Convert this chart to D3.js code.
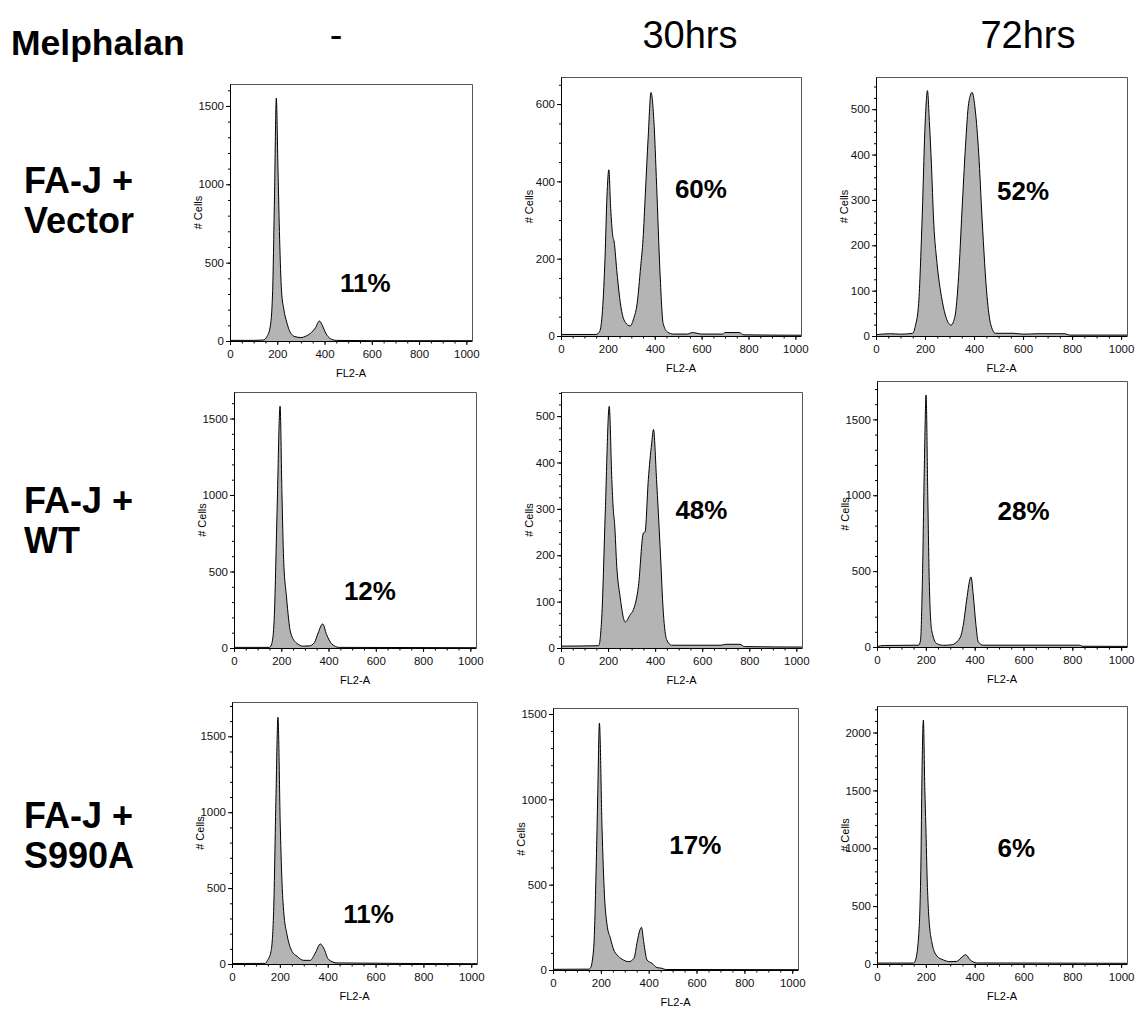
<!DOCTYPE html>
<html>
<head>
<meta charset="utf-8">
<script src="https://cdn.jsdelivr.net/npm/d3@7"></script>
<style>
  body { margin: 0; background: #fff; }
  text { font-family: "Liberation Sans", Arial, sans-serif; }
</style>
</head>
<body>
<div id="graph"></div>
<script>
// cell cycle histograms, melphalan treatment
const conditions = ["-", "30hrs", "72hrs"];
const cellLines = [["FA-J +", "Vector"], ["FA-J +", "WT"], ["FA-J +", "S990A"]];
const percentages = ["11%", "60%", "52%", "12%", "48%", "28%", "11%", "17%", "6%"];
const yMaxes = [1640, 670, 571, 1673, 552, 1753, 1726, 1535, 2229];
const yMajorSteps = [500, 200, 100, 500, 100, 500, 500, 500, 500];
const xTicks = [0, 200, 400, 600, 800, 1000];

// [FL2-A, # cells]
const vectorNone = [[0,4],[100,4],[140,6],[155,25],[170,90],[180,300],[188,900],[196,1550],[203,1100],[210,650],[218,320],[228,200],[240,120],[255,55],[275,28],[300,22],[320,30],[345,55],[362,85],[378,128],[392,95],[405,50],[425,15],[450,4],[600,2],[1024,2]];
const vector30 = [[0,4],[150,4],[165,12],[177,66],[188,205],[196,360],[204,430],[212,330],[220,262],[227,243],[238,170],[250,100],[262,55],[275,35],[295,26],[310,45],[325,85],[340,180],[350,250],[360,370],[372,515],[384,630],[396,560],[408,390],[422,170],[436,32],[455,10],[480,5],[540,5],[560,9],[600,5],[690,5],[700,9],[760,9],[780,3],[1024,2]];
const vector72 = [[0,3],[60,5],[100,4],[150,6],[160,21],[174,72],[188,256],[201,476],[210,541],[218,470],[226,380],[235,256],[249,160],[267,87],[283,46],[306,24],[322,43],[337,131],[351,278],[365,418],[378,513],[392,537],[405,498],[419,403],[433,256],[453,87],[467,28],[487,6],[560,6],[600,4],[660,5],[770,5],[790,2],[1024,2]];
const wtNone = [[0,4],[150,4],[160,30],[170,185],[182,880],[195,1580],[203,1000],[210,580],[222,337],[240,98],[264,33],[293,12],[320,14],[340,35],[356,98],[375,157],[392,87],[413,28],[445,4],[1024,2]];
const wt30 = [[0,4],[160,5],[174,75],[188,291],[205,521],[216,363],[222,300],[228,266],[237,176],[251,111],[273,56],[294,72],[308,83],[329,133],[350,248],[357,250],[371,363],[385,440],[393,471],[406,363],[421,219],[435,75],[449,18],[470,6],[680,6],[700,8],[760,8],[780,3],[1024,2]];
const wt72 = [[0,3],[30,10],[170,12],[178,40],[186,440],[194,1200],[201,1661],[208,1000],[214,440],[224,110],[245,22],[272,11],[306,15],[340,60],[355,160],[367,308],[385,462],[395,330],[405,150],[415,33],[435,12],[830,12],[840,5],[1024,4]];
const s990aNone = [[0,3],[140,4],[146,18],[163,83],[174,347],[184,1116],[192,1625],[202,896],[210,500],[216,347],[230,193],[251,83],[272,51],[299,24],[327,24],[348,72],[369,132],[383,105],[404,29],[439,7],[1024,2]];
const s990a30 = [[0,4],[150,5],[156,10],[170,127],[181,636],[187,1027],[194,1447],[205,831],[215,440],[226,264],[240,186],[254,117],[268,88],[289,63],[317,49],[338,68],[352,166],[362,230],[370,250],[379,166],[393,59],[414,39],[435,14],[456,10],[470,3],[1024,2]];
const s990a72 = [[0,8],[150,8],[156,23],[170,224],[180,885],[184,1604],[190,2107],[196,1500],[200,1200],[206,700],[211,454],[224,195],[245,70],[272,35],[299,20],[327,23],[344,52],[363,80],[381,37],[408,9],[1024,6]];
const histograms = [vectorNone, vector30, vector72, wtNone, wt30, wt72, s990aNone, s990a30, s990a72];

// plot frames [left, top, right, bottom] and where the % label sits (data units)
const frames = [
  [230, 84, 472, 341], [561, 77, 801, 336], [876, 77, 1127, 336],
  [234, 392, 476, 648], [561, 392, 802, 648], [877, 381, 1127, 647],
  [232, 702, 477, 964], [553, 708, 798, 970], [877, 706, 1127, 964]
];
const labelAt = [[465, 313], [486, 357], [494, 300], [465, 314], [486, 278], [494, 837], [465, 270], [486, 680], [494, 924]];

const svg = d3.select("#graph")
  .append("svg")
    .attr("width", 1137)
    .attr("height", 1009);

svg.append("text")
  .attr("x", 11).attr("y", 55)
  .attr("font-size", 35.5).attr("font-weight", "bold")
  .text("Melphalan");

const colCenters = [336, 690, 1028];
svg.selectAll(".cond")
  .data(conditions)
  .join("text")
    .attr("x", (d, i) => colCenters[i])
    .attr("y", 48)
    .attr("text-anchor", "middle")
    .attr("font-size", 38)
    .text(d => d);

const rowBase = [193, 513, 828];
cellLines.forEach((lines, r) => {
  lines.forEach((t, k) => {
    svg.append("text")
      .attr("x", 24).attr("y", rowBase[r] + k * 40)
      .attr("font-size", 36).attr("font-weight", "bold")
      .text(t);
  });
});

histograms.forEach((data, i) => {
  const [l, t, r, b] = frames[i];
  const x = d3.scaleLinear().domain([0, 1024]).range([l, r]);
  const y = d3.scaleLinear().domain([0, yMaxes[i]]).range([b, t]);
  const g = svg.append("g");

  g.append("clipPath").attr("id", "clip" + i)
    .append("rect").attr("x", l).attr("y", t).attr("width", r - l).attr("height", b - t);

  const area = d3.area()
    .x(d => x(d[0]))
    .y0(y(0))
    .y1(d => y(d[1]))
    .curve(d3.curveMonotoneX);
  const line = d3.line()
    .x(d => x(d[0]))
    .y(d => y(d[1]))
    .curve(d3.curveMonotoneX);

  g.append("path")
    .datum(data)
    .attr("clip-path", `url(#clip${i})`)
    .attr("fill", "#b4b4b4")
    .attr("d", area);
  g.append("path")
    .datum(data)
    .attr("clip-path", `url(#clip${i})`)
    .attr("fill", "none")
    .attr("stroke", "#000")
    .attr("stroke-width", 1)
    .attr("d", line);

  // top + right frame
  g.append("path")
    .attr("fill", "none")
    .attr("stroke", "#555")
    .attr("d", `M${l},${t + 0.5}H${r + 0.5}V${b}`);

  const step = yMajorSteps[i];
  const minorStep = step === 500 ? 100 : step / 4;

  g.append("g")
    .attr("transform", `translate(${l},0)`)
    .call(d3.axisLeft(y).tickValues(d3.range(0, yMaxes[i], minorStep)).tickSize(2).tickFormat(""))
    .call(a => a.select(".domain").remove());
  g.append("g")
    .attr("transform", `translate(${l},0)`)
    .call(d3.axisLeft(y).tickValues(d3.range(0, yMaxes[i], step)).tickFormat(d3.format("d"))
      .tickSizeInner(4).tickSizeOuter(0).tickPadding(2))
    .call(a => a.selectAll("text").attr("font-size", 11.5).attr("font-family", null).attr("fill", "#111"));

  g.append("g")
    .attr("transform", `translate(0,${b})`)
    .call(d3.axisBottom(x).tickValues(d3.range(0, 1025, 50)).tickSize(2.5).tickFormat(""))
    .call(a => a.select(".domain").remove());
  g.append("g")
    .attr("transform", `translate(0,${b})`)
    .call(d3.axisBottom(x).tickValues(xTicks).tickFormat(d3.format("d"))
      .tickSizeInner(4).tickSizeOuter(0).tickPadding(5))
    .call(a => a.selectAll("text").attr("font-size", 11.5).attr("font-family", null).attr("fill", "#111"));

  g.append("text")
    .attr("transform", `translate(${l - 32},${(t + b) / 2}) rotate(-90)`)
    .attr("text-anchor", "middle")
    .attr("dy", "0.35em")
    .attr("font-size", 11)
    .text("# Cells");

  g.append("text")
    .attr("x", (l + r) / 2)
    .attr("y", b + 36)
    .attr("text-anchor", "middle")
    .attr("font-size", 11)
    .text("FL2-A");

  g.append("text")
    .attr("x", x(labelAt[i][0]))
    .attr("y", y(labelAt[i][1]))
    .attr("font-size", 26)
    .attr("font-weight", "bold")
    .text(percentages[i]);
});
</script>
</body>
</html>
